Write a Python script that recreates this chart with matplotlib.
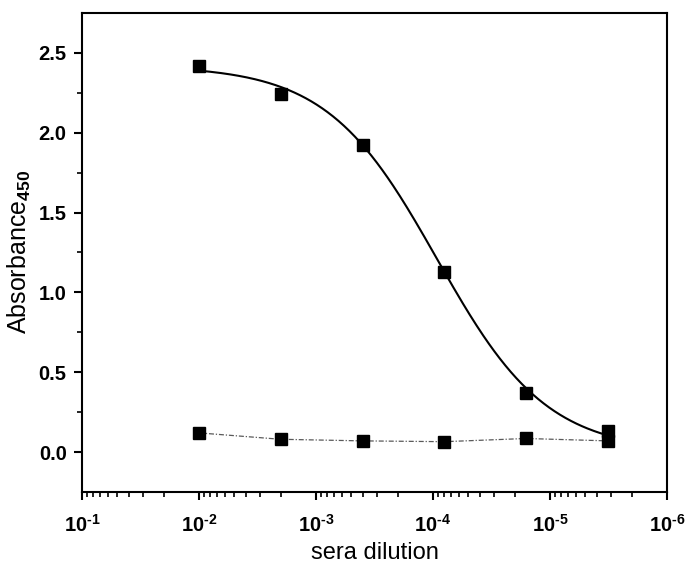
import numpy as np
import matplotlib
matplotlib.use("Agg")
import matplotlib.pyplot as plt
from matplotlib.ticker import FuncFormatter

plt.rcParams["font.family"] = ["Liberation Sans", "DejaVu Sans"]
plt.rcParams["mathtext.fontset"] = "custom"
plt.rcParams["mathtext.rm"] = "Liberation Sans:bold"
plt.rcParams["mathtext.it"] = "Liberation Sans:bold"

# five-fold serial dilutions
dilution = [1e-2, 2e-3, 4e-4, 8e-5, 1.6e-5, 3.2e-6]
immune = [2.42, 2.24, 1.92, 1.13, 0.37, 0.13]
control = [0.12, 0.08, 0.07, 0.065, 0.085, 0.07]

# logistic fit drawn through the immune series
fit_top = 2.42
fit_bottom = 0.0
fit_logx50 = -4.034
fit_slope = 0.923


def logistic(x):
    return fit_bottom + (fit_top - fit_bottom) / (
        1 + 10 ** (fit_slope * (fit_logx50 - np.log10(x))))


def decade_label(v, pos):
    return r"$\mathregular{10^{\text{-}%d}}$" % round(-np.log10(v))


def main():
    fig = plt.figure(figsize=(6.85, 5.67), dpi=100)
    ax = fig.add_axes([0.1197, 0.1323, 0.854, 0.845])

    xs = np.logspace(np.log10(dilution[0]), np.log10(dilution[-1]), 300)
    ax.plot(xs, logistic(xs), "-", color="black", lw=1.5)
    ax.plot(dilution, control, linestyle=(0, (4, 1.5, 1, 1.5)), color="0.35",
            lw=0.9)
    ax.plot(dilution, immune, "s", color="black", ms=8.5)
    ax.plot(dilution, control, "s", color="black", ms=8.5)

    ax.set_xscale("log")
    ax.set_xlim(1e-1, 1e-6)
    ax.xaxis.set_major_formatter(FuncFormatter(decade_label))
    ax.set_ylim(-0.25, 2.75)
    ax.set_yticks([0.0, 0.5, 1.0, 1.5, 2.0, 2.5])
    ax.set_yticks(np.arange(0.25, 2.6, 0.5), minor=True)
    ax.set_yticklabels(["0.0", "0.5", "1.0", "1.5", "2.0", "2.5"])

    for s in ax.spines.values():
        s.set_linewidth(1.5)
    ax.tick_params(which="major", length=6, width=1.5, direction="out",
                   labelsize=14.5)
    ax.tick_params(axis="x", which="major", pad=10)
    ax.tick_params(axis="y", which="major", pad=5)
    ax.tick_params(which="minor", length=3.5, width=1.2, direction="out")
    for lab in ax.get_xticklabels() + ax.get_yticklabels():
        lab.set_fontweight("bold")

    ax.set_xlabel("sera dilution", fontsize=17, labelpad=4)
    ax.set_ylabel("Absorbance$_{450}$", fontsize=18, labelpad=4)

    fig.savefig("out.png", dpi=100)


if __name__ == "__main__":
    main()
